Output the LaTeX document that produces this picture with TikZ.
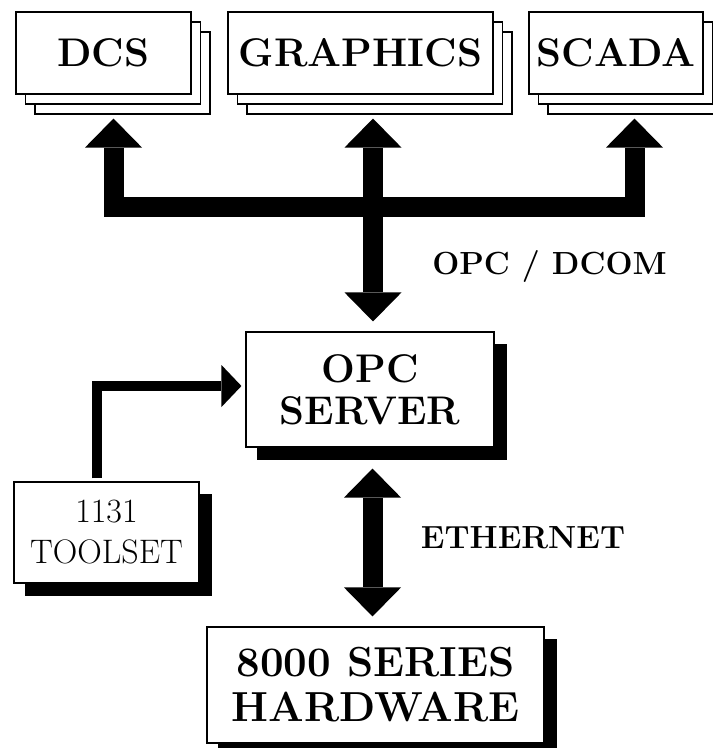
\documentclass[tikz,border=0pt]{standalone}
\usetikzlibrary{arrows.meta,shadows,calc}

\newcommand\hdfont{\fontsize{40}{42}\selectfont\bfseries}
\newcommand\srvfont{\fontsize{40}{42}\selectfont\bfseries}
\newcommand\hwfont{\fontsize{42}{45}\selectfont\bfseries}
\newcommand\lblfont{\fontsize{32}{38}\selectfont\bfseries}
\newcommand\tsfont{\fontsize{34}{41}\selectfont}

\tikzset{
  boxline/.style={draw=black, line width=1.1pt, fill=white, inner sep=0pt, align=center},
  stackbox/.style={boxline,
    general shadow={shadow xshift=19pt, shadow yshift=-20pt, fill=white, draw=black, line width=1.1pt},
    general shadow={shadow xshift=9.5pt, shadow yshift=-10pt, fill=white, draw=black, line width=1.1pt}},
  dropbox/.style={boxline,
    general shadow={shadow xshift=12pt, shadow yshift=-12.5pt, fill=black, draw=black, line width=1.1pt}},
  fatline/.style={draw=black, line width=20pt, line join=miter, line cap=butt},
  thinline/.style={draw=black, line width=10pt, line join=miter, line cap=butt},
  fatboth/.style={{Triangle[width=57pt,length=29pt,line width=0pt]}-{Triangle[width=57pt,length=29pt,line width=0pt]}},
  thinend/.style={-{Triangle[width=42pt,length=20pt,line width=0pt]}},
}

\begin{document}
\begin{tikzpicture}[x=1pt,y=-1pt]
\useasboundingbox (0,0) rectangle (713,748);

% client applications
\node[stackbox, font=\hdfont, minimum width=175pt, minimum height=82pt] (dcs) at (103.5,53) {DCS};
\node[stackbox, font=\hdfont, minimum width=265pt, minimum height=82pt] (graphics) at (360.5,53) {GRAPHICS};
\node[stackbox, font=\hdfont, minimum width=174pt, minimum height=82pt] (scada) at (616,53) {SCADA};

% server, tools and hardware
\node[dropbox, font=\srvfont, minimum width=248pt, minimum height=115pt] (opc) at (370,389.5) {OPC\\SERVER};
\node[dropbox, font=\tsfont, minimum width=185pt, minimum height=101pt] (toolset) at (106.5,532.5) {1131\\TOOLSET};
\node[dropbox, font=\hwfont, minimum width=337pt, minimum height=116pt] (hw) at (375.5,685) {8000 SERIES\\HARDWARE};

% link labels
\node[anchor=base, font=\lblfont] (dcomlbl) at (549.5,274) {OPC / DCOM};
\node[anchor=base, font=\lblfont] (ethlbl) at (523,548) {ETHERNET};

% bus joining the clients
\coordinate (bus) at (373,206.5);
\coordinate (low) at (372.5,560);
\draw[fatline, fatboth, shorten <=24pt, shorten >=24pt]
  ($(dcs.south)+(10,0)$) |- (bus) -| ($(scada.south)+(18.5,0)$);
\draw[fatline, fatboth, shorten <=24pt, shorten >=10pt]
  (graphics.south -| bus) -- (opc.north -| bus);

% ethernet link
\draw[fatline, fatboth, shorten <=21pt, shorten >=10pt]
  (opc.south -| low) -- (hw.north -| low);

% configuration tool
\draw[thinline, thinend, shorten <=3pt, shorten >=4pt]
  ($(toolset.north)+(-9.5,0)$) |- ($(opc.west)+(0,-3.5)$);
\end{tikzpicture}
\end{document}
